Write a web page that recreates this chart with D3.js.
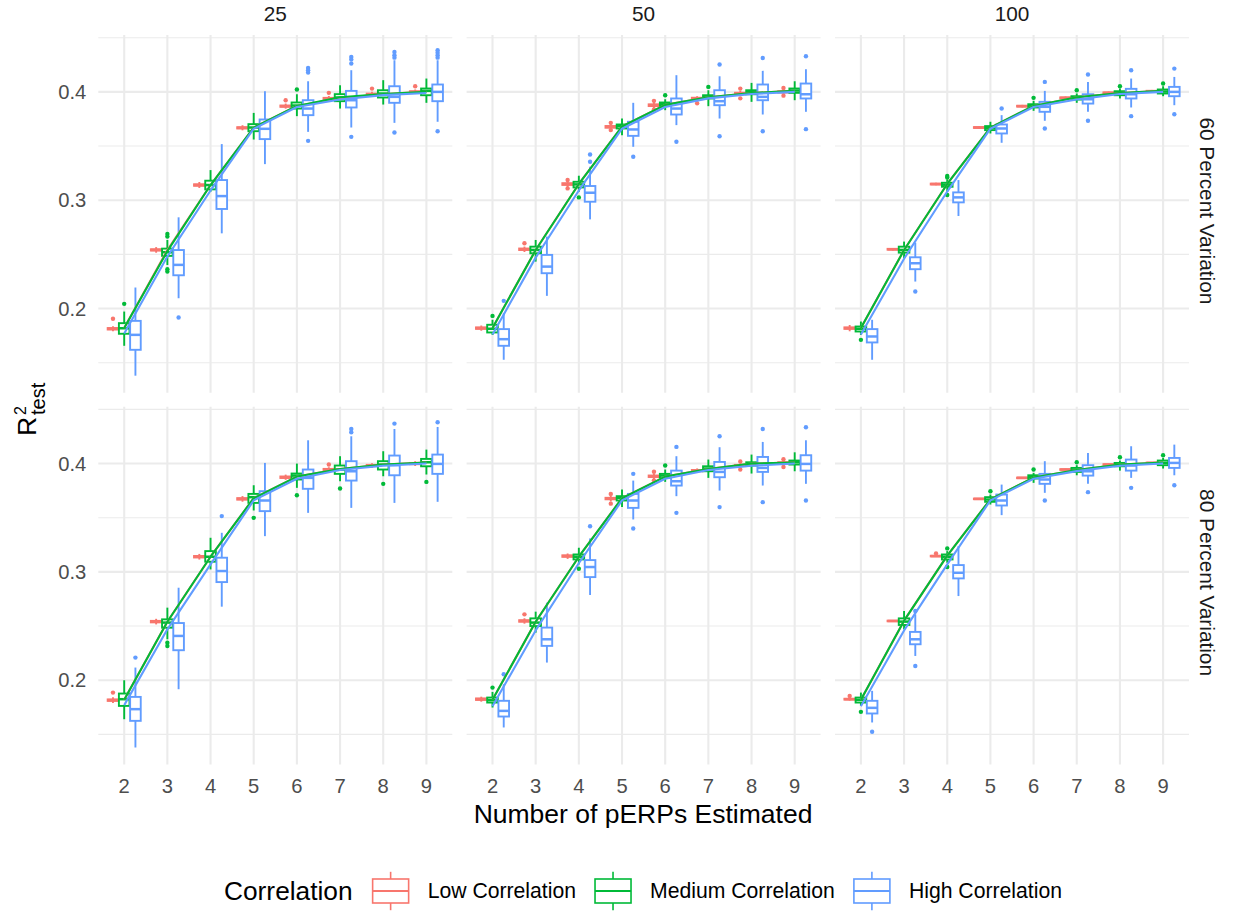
<!DOCTYPE html>
<html>
<head>
<meta charset="utf-8">
<script src="https://cdn.jsdelivr.net/npm/d3@7"></script>
<style>
  html, body { margin: 0; padding: 0; background: #ffffff; }
  svg { display: block; }
</style>
</head>
<body>
<svg id="chart" width="1233" height="911"></svg>
<script>
// ---- categories and labels ----
const xLevels = [2, 3, 4, 5, 6, 7, 8, 9];
const sampleSizes = ["25", "50", "100"];
const variations = ["60 Percent Variation", "80 Percent Variation"];
const groups = ["Low Correlation", "Medium Correlation", "High Correlation"];
const groupColors = ["#F8766D", "#00BA38", "#619CFF"];
const yMajorTicks = [0.2, 0.3, 0.4];
const yMinorTicks = [0.15, 0.25, 0.35, 0.45];
const yDomain = [0.1223, 0.4525];

// ---- box statistics per x level: [lower whisker, q1, median, q3, upper whisker] ----
// n = 25, 60 percent variation
const low25v60 = [[0.1790,0.1806,0.1813,0.1820,0.1836],[0.2515,0.2535,0.2541,0.2547,0.2567],[0.3113,0.3133,0.3140,0.3147,0.3168],[0.3645,0.3662,0.3668,0.3674,0.3692],[0.3845,0.3862,0.3868,0.3874,0.3892],[0.3918,0.3933,0.3939,0.3945,0.3962],[0.3958,0.3972,0.3978,0.3984,0.4000],[0.3980,0.3994,0.4000,0.4006,0.4022]];
const med25v60 = [[0.1656,0.1767,0.1818,0.1865,0.1972],[0.2402,0.2486,0.2520,0.2553,0.2633],[0.3078,0.3100,0.3140,0.3180,0.3278],[0.3560,0.3637,0.3671,0.3702,0.3806],[0.3776,0.3846,0.3874,0.3902,0.3978],[0.3846,0.3914,0.3948,0.3979,0.4061],[0.3883,0.3948,0.3985,0.4015,0.4108],[0.3899,0.3969,0.4009,0.4031,0.4123]];
const high25v60 = [[0.1380,0.1619,0.1757,0.1886,0.2194],[0.2095,0.2307,0.2403,0.2540,0.2842],[0.2694,0.2919,0.3038,0.3186,0.3518],[0.3333,0.3564,0.3659,0.3745,0.4006],[0.3631,0.3785,0.3846,0.3923,0.4098],[0.3671,0.3856,0.3923,0.4009,0.4200],[0.3714,0.3899,0.3954,0.4052,0.4292],[0.3724,0.3914,0.4000,0.4068,0.4292]];
// n = 50, 60 percent variation
const low50v60 = [[0.1795,0.1812,0.1819,0.1826,0.1843],[0.2522,0.2540,0.2547,0.2554,0.2572],[0.3120,0.3141,0.3149,0.3157,0.3178],[0.3648,0.3669,0.3677,0.3685,0.3706],[0.3848,0.3869,0.3877,0.3885,0.3906],[0.3915,0.3932,0.3939,0.3946,0.3960],[0.3962,0.3978,0.3985,0.3992,0.4010],[0.3978,0.3994,0.4000,0.4006,0.4022]];
const med50v60 = [[0.1757,0.1779,0.1813,0.1850,0.1896],[0.2433,0.2510,0.2541,0.2571,0.2633],[0.3078,0.3118,0.3146,0.3170,0.3226],[0.3600,0.3662,0.3684,0.3699,0.3754],[0.3831,0.3871,0.3886,0.3902,0.3932],[0.3868,0.3939,0.3954,0.3969,0.4015],[0.3908,0.3978,0.4000,0.4015,0.4083],[0.3923,0.3991,0.4012,0.4031,0.4098]];
const high50v60 = [[0.1527,0.1656,0.1717,0.1810,0.1957],[0.2117,0.2326,0.2387,0.2495,0.2664],[0.2823,0.2986,0.3069,0.3131,0.3309],[0.3493,0.3594,0.3653,0.3724,0.3899],[0.3693,0.3791,0.3846,0.3939,0.4154],[0.3754,0.3877,0.3914,0.4015,0.4144],[0.3791,0.3923,0.3954,0.4068,0.4194],[0.3816,0.3939,0.3978,0.4077,0.4209]];
// n = 100, 60 percent variation
const low100v60 = [[0.1790,0.1812,0.1819,0.1826,0.1848],[0.2535,0.2543,0.2547,0.2551,0.2559],[0.3137,0.3145,0.3149,0.3153,0.3161],[0.3659,0.3667,0.3671,0.3675,0.3683],[0.3856,0.3864,0.3868,0.3872,0.3880],[0.3933,0.3941,0.3945,0.3949,0.3957],[0.3979,0.3987,0.3991,0.3995,0.4003],[0.3994,0.4002,0.4006,0.4010,0.4018]];
const med100v60 = [[0.1757,0.1788,0.1813,0.1834,0.1880],[0.2464,0.2516,0.2541,0.2571,0.2618],[0.3078,0.3124,0.3143,0.3161,0.3192],[0.3616,0.3647,0.3668,0.3684,0.3724],[0.3825,0.3856,0.3871,0.3886,0.3917],[0.3899,0.3929,0.3945,0.3960,0.3985],[0.3939,0.3969,0.3988,0.4006,0.4031],[0.3960,0.3985,0.4003,0.4022,0.4052]];
const high100v60 = [[0.1527,0.1687,0.1742,0.1810,0.1896],[0.2249,0.2363,0.2418,0.2473,0.2608],[0.2854,0.2980,0.3026,0.3072,0.3186],[0.3530,0.3616,0.3662,0.3699,0.3785],[0.3733,0.3816,0.3862,0.3908,0.4009],[0.3816,0.3892,0.3932,0.3978,0.4092],[0.3856,0.3939,0.3978,0.4028,0.4123],[0.3877,0.3960,0.4000,0.4046,0.4138]];
// n = 25, 80 percent variation
const low25v80 = [[0.1790,0.1809,0.1816,0.1823,0.1842],[0.2515,0.2534,0.2541,0.2548,0.2567],[0.3114,0.3133,0.3140,0.3147,0.3166],[0.3648,0.3667,0.3674,0.3681,0.3700],[0.3850,0.3867,0.3874,0.3881,0.3898],[0.3922,0.3939,0.3945,0.3951,0.3966],[0.3960,0.3976,0.3982,0.3988,0.4004],[0.3978,0.3994,0.4000,0.4006,0.4022]];
const med25v80 = [[0.1640,0.1763,0.1825,0.1877,0.2000],[0.2378,0.2485,0.2532,0.2562,0.2670],[0.3023,0.3094,0.3140,0.3192,0.3315],[0.3567,0.3637,0.3690,0.3720,0.3800],[0.3776,0.3853,0.3889,0.3908,0.4000],[0.3837,0.3905,0.3945,0.3982,0.4068],[0.3883,0.3945,0.3991,0.4022,0.4114],[0.3899,0.3975,0.4012,0.4043,0.4129]];
const high25v80 = [[0.1379,0.1625,0.1733,0.1846,0.2117],[0.1917,0.2277,0.2409,0.2528,0.2854],[0.2679,0.2906,0.3008,0.3131,0.3361],[0.3330,0.3561,0.3659,0.3745,0.4006],[0.3545,0.3767,0.3868,0.3945,0.4215],[0.3591,0.3843,0.3929,0.4022,0.4252],[0.3637,0.3892,0.3985,0.4074,0.4319],[0.3647,0.3905,0.3997,0.4083,0.4338]];
// n = 50, 80 percent variation
const low50v80 = [[0.1802,0.1818,0.1825,0.1832,0.1848],[0.2522,0.2540,0.2547,0.2554,0.2572],[0.3120,0.3139,0.3146,0.3153,0.3170],[0.3650,0.3670,0.3677,0.3684,0.3704],[0.3858,0.3876,0.3883,0.3890,0.3908],[0.3915,0.3929,0.3935,0.3941,0.3955],[0.3960,0.3976,0.3982,0.3988,0.4004],[0.3985,0.4000,0.4006,0.4012,0.4028]];
const med50v80 = [[0.1748,0.1794,0.1816,0.1840,0.1892],[0.2439,0.2500,0.2532,0.2571,0.2633],[0.3069,0.3115,0.3140,0.3161,0.3223],[0.3598,0.3659,0.3684,0.3699,0.3760],[0.3831,0.3868,0.3889,0.3905,0.3945],[0.3868,0.3929,0.3954,0.3975,0.4037],[0.3908,0.3982,0.4000,0.4012,0.4083],[0.3929,0.3991,0.4012,0.4028,0.4104]];
const high50v80 = [[0.1564,0.1665,0.1717,0.1810,0.1963],[0.2163,0.2317,0.2378,0.2486,0.2716],[0.2787,0.2952,0.3045,0.3109,0.3309],[0.3484,0.3591,0.3659,0.3720,0.3843],[0.3699,0.3797,0.3837,0.3935,0.4068],[0.3751,0.3874,0.3923,0.4015,0.4151],[0.3797,0.3923,0.3960,0.4061,0.4200],[0.3813,0.3935,0.3997,0.4077,0.4215]];
// n = 100, 80 percent variation
const low100v80 = [[0.1812,0.1821,0.1825,0.1829,0.1838],[0.2539,0.2544,0.2547,0.2550,0.2555],[0.3138,0.3143,0.3146,0.3149,0.3154],[0.3666,0.3671,0.3674,0.3677,0.3682],[0.3860,0.3865,0.3868,0.3871,0.3876],[0.3937,0.3942,0.3945,0.3948,0.3953],[0.3983,0.3988,0.3991,0.3994,0.3999],[0.3998,0.4003,0.4006,0.4009,0.4014]];
const med100v80 = [[0.1763,0.1794,0.1819,0.1840,0.1886],[0.2470,0.2510,0.2541,0.2571,0.2639],[0.3084,0.3115,0.3140,0.3161,0.3192],[0.3622,0.3647,0.3668,0.3690,0.3714],[0.3822,0.3862,0.3877,0.3892,0.3914],[0.3892,0.3923,0.3942,0.3960,0.3985],[0.3935,0.3975,0.3991,0.4006,0.4028],[0.3954,0.3985,0.4006,0.4028,0.4052]];
const high100v80 = [[0.1610,0.1693,0.1745,0.1810,0.1902],[0.2224,0.2332,0.2378,0.2446,0.2608],[0.2777,0.2940,0.2992,0.3063,0.3238],[0.3524,0.3613,0.3659,0.3714,0.3806],[0.3730,0.3813,0.3853,0.3905,0.4022],[0.3813,0.3889,0.3929,0.3985,0.4098],[0.3868,0.3935,0.3982,0.4037,0.4160],[0.3892,0.3960,0.4006,0.4052,0.4175]];

// ---- outlying runs: [x level, group index, R2] ----
const out25v60 = [[2,0,0.1905],[6,0,0.3923],[7,0,0.3991],[8,0,0.4030],[9,0,0.4052],
  [2,1,0.2043],[3,1,0.2688],[3,1,0.2664],[3,1,0.2363],[3,1,0.2341],[6,1,0.4022],
  [3,2,0.1917],[6,2,0.4221],[6,2,0.4200],[6,2,0.4178],[6,2,0.3548],[7,2,0.4323],[7,2,0.4298],[7,2,0.4261],[7,2,0.3585],
  [8,2,0.4369],[8,2,0.4338],[8,2,0.4316],[8,2,0.3625],[9,2,0.4384],[9,2,0.4362],[9,2,0.4338],[9,2,0.4316],[9,2,0.3637]];
const out50v60 = [[3,0,0.2602],[4,0,0.3186],[4,0,0.3109],[5,0,0.3714],[5,0,0.3647],[6,0,0.3917],[6,0,0.3837],[7,0,0.3895],[8,0,0.4030],[8,0,0.3940],[9,0,0.4036],[9,0,0.3965],
  [2,1,0.1932],[4,1,0.3026],[6,1,0.3969],[7,1,0.4046],
  [2,2,0.2071],[4,2,0.3422],[4,2,0.3355],[5,2,0.3401],[6,2,0.3539],[7,2,0.4252],[7,2,0.3591],[8,2,0.4313],[8,2,0.3637],[9,2,0.4329],[9,2,0.3656]];
const out100v60 = [[2,1,0.1711],[4,1,0.3223],[4,1,0.3210],[4,1,0.3048],[6,1,0.3945],[7,1,0.4015],[8,1,0.4052],[9,1,0.4077],
  [3,2,0.2157],[5,2,0.3846],[6,2,0.4092],[6,2,0.3662],[7,2,0.4160],[7,2,0.3733],[8,2,0.4200],[8,2,0.3776],[9,2,0.4215],[9,2,0.3794]];
const out25v80 = [[2,0,0.1886],[7,0,0.3991],
  [3,1,0.2347],[3,1,0.2316],[5,1,0.3499],[6,1,0.3708],[7,1,0.3770],[8,1,0.3813],[9,1,0.3831],
  [2,2,0.2209],[4,2,0.3515],[7,2,0.4319],[7,2,0.4289],[8,2,0.4369],[9,2,0.4381]];
const out50v80 = [[3,0,0.2608],[5,0,0.3720],[5,0,0.3630],[6,0,0.3925],[6,0,0.3845],[8,0,0.4020],[8,0,0.3945],[9,0,0.4040],[9,0,0.3968],
  [2,1,0.1932],[4,1,0.3029],[6,1,0.3982],
  [2,2,0.2055],[4,2,0.3422],[5,2,0.3905],[5,2,0.3401],[6,2,0.4154],[6,2,0.3545],[7,2,0.4252],[7,2,0.3598],[8,2,0.4319],[8,2,0.3644],[9,2,0.4335],[9,2,0.3659]];
const out100v80 = [[2,0,0.1855],[4,0,0.3170],
  [2,1,0.1708],[4,1,0.3217],[4,1,0.3045],[5,1,0.3745],[6,1,0.3945],[7,1,0.4012],[8,1,0.4058],[9,1,0.4077],
  [2,2,0.1524],[3,2,0.2639],[3,2,0.2132],[6,2,0.3659],[7,2,0.3736],[8,2,0.3776],[9,2,0.3800]];

// ---- mean R2 per x level, one row per correlation group ----
const mean25v60 = [[0.182,0.254,0.314,0.367,0.387,0.394,0.398,0.400],[0.182,0.253,0.314,0.367,0.387,0.395,0.398,0.400],[0.177,0.248,0.309,0.366,0.386,0.393,0.397,0.399]];
const mean50v60 = [[0.182,0.254,0.315,0.368,0.388,0.395,0.399,0.401],[0.182,0.254,0.315,0.368,0.388,0.395,0.399,0.401],[0.176,0.247,0.309,0.366,0.386,0.394,0.398,0.400]];
const mean100v60 = [[0.182,0.254,0.315,0.367,0.387,0.395,0.399,0.401],[0.182,0.254,0.315,0.367,0.387,0.395,0.399,0.401],[0.176,0.246,0.308,0.366,0.386,0.393,0.398,0.400]];
const mean25v80 = [[0.182,0.254,0.314,0.368,0.388,0.395,0.399,0.401],[0.182,0.254,0.314,0.368,0.388,0.395,0.399,0.401],[0.177,0.247,0.307,0.366,0.386,0.394,0.398,0.400]];
const mean50v80 = [[0.182,0.254,0.314,0.368,0.388,0.395,0.400,0.401],[0.182,0.254,0.314,0.368,0.388,0.395,0.400,0.401],[0.176,0.246,0.308,0.366,0.386,0.394,0.398,0.400]];
const mean100v80 = [[0.182,0.255,0.315,0.367,0.387,0.394,0.399,0.401],[0.182,0.255,0.315,0.367,0.387,0.394,0.399,0.401],[0.176,0.246,0.307,0.366,0.386,0.393,0.398,0.400]];

// panel lookup built from the arrays above (row = variation, col = sample size)
const panelData = [
  [ {boxes:[low25v60, med25v60, high25v60], outliers: out25v60, means: mean25v60},
    {boxes:[low50v60, med50v60, high50v60], outliers: out50v60, means: mean50v60},
    {boxes:[low100v60, med100v60, high100v60], outliers: out100v60, means: mean100v60} ],
  [ {boxes:[low25v80, med25v80, high25v80], outliers: out25v80, means: mean25v80},
    {boxes:[low50v80, med50v80, high50v80], outliers: out50v80, means: mean50v80},
    {boxes:[low100v80, med100v80, high100v80], outliers: out100v80, means: mean100v80} ]
];

// ---- layout ----
const FONT = "'Liberation Sans', Arial, Helvetica, sans-serif";
const panelLefts = [98.3, 466.6, 835];
const panelTops = [35, 406.7];
const panelW = 354;
const panelH = 357.7;
const gridColor = "#EBEBEB";
const tickSize = 20.2;
const stripSize = 20.8;

const svg = d3.select("#chart");
svg.append("rect").attr("width", 1233).attr("height", 911).attr("fill", "#ffffff");

const x = d3.scalePoint().domain(xLevels).range([0, panelW]).padding(0.6);
const step = x.step();
const dodge = 0.26 * step;
const halfBox = 0.123 * step;
const y = d3.scaleLinear().domain(yDomain).range([panelH, 0]);

const meanLine = d3.line().x((d, i) => x(xLevels[i])).y(d => y(d));

panelData.forEach((row, r) => {
  row.forEach((pd, c) => {
    const g = svg.append("g").attr("transform", `translate(${panelLefts[c]},${panelTops[r]})`);

    // grid
    g.selectAll(".minor").data(yMinorTicks).join("line")
      .attr("x1", 0).attr("x2", panelW)
      .attr("y1", d => y(d)).attr("y2", d => y(d))
      .attr("stroke", gridColor).attr("stroke-width", 1.1);
    g.selectAll(".majorY").data(yMajorTicks).join("line")
      .attr("x1", 0).attr("x2", panelW)
      .attr("y1", d => y(d)).attr("y2", d => y(d))
      .attr("stroke", gridColor).attr("stroke-width", 2.1);
    g.selectAll(".majorX").data(xLevels).join("line")
      .attr("x1", d => x(d)).attr("x2", d => x(d))
      .attr("y1", 0).attr("y2", panelH)
      .attr("stroke", gridColor).attr("stroke-width", 2.1);

    // boxplots
    pd.boxes.forEach((series, gi) => {
      const col = groupColors[gi];
      const bg = g.append("g");
      series.forEach((s, i) => {
        const cx = x(xLevels[i]) + (gi - 1) * dodge;
        const [lo, q1, md, q3, hi] = s;
        bg.append("line").attr("x1", cx).attr("x2", cx).attr("y1", y(hi)).attr("y2", y(q3))
          .attr("stroke", col).attr("stroke-width", 1.9);
        bg.append("line").attr("x1", cx).attr("x2", cx).attr("y1", y(q1)).attr("y2", y(lo))
          .attr("stroke", col).attr("stroke-width", 1.9);
        bg.append("rect").attr("x", cx - halfBox).attr("width", 2 * halfBox)
          .attr("y", y(q3)).attr("height", Math.max(0.01, y(q1) - y(q3)))
          .attr("fill", "#ffffff").attr("stroke", col).attr("stroke-width", 1.9);
        bg.append("line").attr("x1", cx - halfBox).attr("x2", cx + halfBox)
          .attr("y1", y(md)).attr("y2", y(md))
          .attr("stroke", col).attr("stroke-width", 2.5);
      });
    });

    // outliers
    g.append("g").selectAll("circle").data(pd.outliers).join("circle")
      .attr("cx", d => x(d[0]) + (d[1] - 1) * dodge)
      .attr("cy", d => y(d[2]))
      .attr("r", 2.2)
      .attr("fill", d => groupColors[d[1]]);

    // mean lines
    pd.means.forEach((m, gi) => {
      g.append("path").attr("d", meanLine(m))
        .attr("fill", "none").attr("stroke", groupColors[gi])
        .attr("stroke-width", 2.1).attr("stroke-linejoin", "round");
    });

    // y tick labels on the first column
    if (c === 0) {
      svg.append("g").selectAll("text").data(yMajorTicks).join("text")
        .attr("x", panelLefts[0] - 12).attr("y", d => panelTops[r] + y(d))
        .attr("dy", "0.35em").attr("text-anchor", "end")
        .attr("font-family", FONT).attr("font-size", tickSize).attr("fill", "#4D4D4D")
        .text(d => d.toFixed(1));
    }
    // x tick labels on the bottom row
    if (r === 1) {
      svg.append("g").selectAll("text").data(xLevels).join("text")
        .attr("x", d => panelLefts[c] + x(d)).attr("y", 793)
        .attr("text-anchor", "middle")
        .attr("font-family", FONT).attr("font-size", tickSize).attr("fill", "#4D4D4D")
        .text(d => d);
    }
  });
});

// strip labels: sample sizes across the top
sampleSizes.forEach((s, c) => {
  svg.append("text").attr("x", panelLefts[c] + panelW / 2).attr("y", 21)
    .attr("text-anchor", "middle").attr("font-family", FONT).attr("font-size", stripSize)
    .attr("fill", "#1A1A1A").text(s);
});
// strip labels: variation on the right
variations.forEach((v, r) => {
  const cy = panelTops[r] + panelH / 2 - 3;
  svg.append("text").attr("transform", `translate(1200,${cy}) rotate(90)`)
    .attr("text-anchor", "middle").attr("font-family", FONT).attr("font-size", stripSize)
    .attr("fill", "#1A1A1A").text(v);
});

// axis titles
svg.append("text").attr("x", 643).attr("y", 823).attr("text-anchor", "middle")
  .attr("font-family", FONT).attr("font-size", 26.5).attr("fill", "#000000")
  .text("Number of pERPs Estimated");

const yTitle = svg.append("g").attr("transform", "translate(36,436) rotate(-90)")
  .attr("font-family", FONT).attr("fill", "#000000");
yTitle.append("text").attr("x", 0).attr("y", 0).attr("font-size", 26.5).text("R");
yTitle.append("text").attr("x", 21).attr("y", -10).attr("font-size", 16).text("2");
yTitle.append("text").attr("x", 21).attr("y", 9).attr("font-size", 20).text("test");

// legend
const legend = svg.append("g").attr("font-family", FONT);
const legY = 891;
const title = legend.append("text").attr("y", legY).attr("dy", "0.35em")
  .attr("font-size", 26.3).attr("fill", "#000000").text("Correlation");
let cursor = 0;
const titleW = title.node().getComputedTextLength();
cursor = titleW + 14;
const keyW = 48;
const items = [];
groups.forEach((name, gi) => {
  const kx = cursor;
  const t = legend.append("text").attr("y", legY).attr("dy", "0.35em")
    .attr("font-size", 21.2).attr("fill", "#000000").text(name);
  const tw = t.node().getComputedTextLength();
  items.push({kx, t, tx: kx + keyW + 13, gi});
  cursor = kx + keyW + 13 + tw + 13;
});
const totalW = cursor - 13;
const startX = 643 - totalW / 2;
title.attr("x", startX);
items.forEach(it => {
  it.t.attr("x", startX + it.tx);
  const col = groupColors[it.gi];
  const k = legend.append("g").attr("transform", `translate(${startX + it.kx},${legY - keyW / 2})`);
  const cx = keyW / 2;
  k.append("line").attr("x1", cx).attr("x2", cx).attr("y1", keyW * 0.1).attr("y2", keyW * 0.25)
    .attr("stroke", col).attr("stroke-width", 1.6);
  k.append("line").attr("x1", cx).attr("x2", cx).attr("y1", keyW * 0.75).attr("y2", keyW * 0.9)
    .attr("stroke", col).attr("stroke-width", 1.6);
  k.append("rect").attr("x", keyW * 0.125).attr("y", keyW * 0.25)
    .attr("width", keyW * 0.75).attr("height", keyW * 0.5)
    .attr("fill", "#ffffff").attr("stroke", col).attr("stroke-width", 1.6);
  k.append("line").attr("x1", keyW * 0.125).attr("x2", keyW * 0.875)
    .attr("y1", keyW / 2).attr("y2", keyW / 2)
    .attr("stroke", col).attr("stroke-width", 1.9);
});
</script>
</body>
</html>
